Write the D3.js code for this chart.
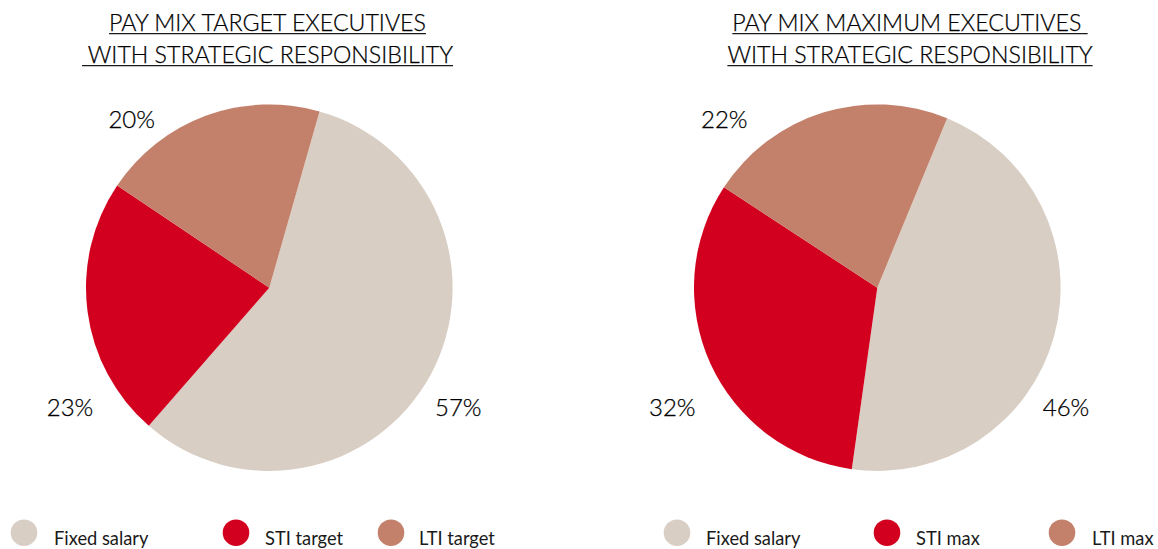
<!DOCTYPE html>
<html>
<head>
<meta charset="utf-8">
<script src="https://cdn.jsdelivr.net/npm/d3@7"></script>
<style>
  html, body { margin: 0; padding: 0; background: #fff; }
  svg { display: block; }
  text { white-space: pre; }
</style>
</head>
<body>
<svg id="chart" width="1158" height="549"></svg>
<script>
// ---- data ----
const categories = ["Fixed salary", "STI", "LTI"];
const targetValues = [57, 23, 20];
const maxValues = [46, 32, 22];
const targetLegend = ["Fixed salary", "STI target", "LTI target"];
const maxLegend = ["Fixed salary", "STI max", "LTI max"];
const targetTitle = ["PAY MIX TARGET EXECUTIVES", " WITH STRATEGIC RESPONSIBILITY"];
const maxTitle = ["PAY MIX MAXIMUM EXECUTIVES ", "WITH STRATEGIC RESPONSIBILITY"];
const sliceColors = ["#D9CEC4", "#D2001E", "#C3806A"];

// ---- layout ----
const charts = [
  { values: targetValues, legend: targetLegend, title: targetTitle,
    cx: 269.3, cy: 287.7, r: 183.3, startDeg: 15.9, titleX: 267.5,
    labelOffsets: [[189, 119.5], [-199.3, 119.5], [-137.6, -168]],
    legendCircleX: [24, 236, 391], legendTextX: [54, 265, 419] },
  { values: maxValues, legend: maxLegend, title: maxTitle,
    cx: 877.3, cy: 287.7, r: 183.3, startDeg: 22.4, titleX: 910,
    labelOffsets: [[188.7, 119.5], [-205, 119.5], [-153, -168]],
    legendCircleX: [677, 887, 1062], legendTextX: [706, 916, 1092] }
];
const titleBaselines = [31, 63];
const legendY = 532.7;

const svg = d3.select("#chart");
const color = d3.scaleOrdinal().domain(categories).range(sliceColors);

charts.forEach(c => {
  const g = svg.append("g");
  const data = categories.map((k, i) => ({ key: k, value: c.values[i], label: c.legend[i] }));
  const start = c.startDeg * Math.PI / 180;
  const pie = d3.pie().sort(null).value(d => d.value)
    .startAngle(start).endAngle(start + 2 * Math.PI);
  const arc = d3.arc().innerRadius(0).outerRadius(c.r);
  const arcs = pie(data);

  g.append("g").attr("transform", `translate(${c.cx},${c.cy})`)
    .selectAll("path").data(arcs).join("path")
    .attr("d", arc)
    .attr("fill", d => color(d.data.key));

  // percentage labels
  g.append("g").attr("transform", `translate(${c.cx},${c.cy})`)
    .selectAll("text").data(arcs).join("text")
    .attr("x", (d, i) => c.labelOffsets[i][0])
    .attr("y", (d, i) => c.labelOffsets[i][1])
    .attr("text-anchor", "middle")
    .attr("dy", "0.36em")
    .style("font-family", "Lato, sans-serif")
    .style("font-weight", 300)
    .style("font-size", "24px")
    .attr("fill", "#000")
    .attr("stroke", "#000").attr("stroke-width", 0.25)
    .text(d => d3.format(".0f")(d.data.value) + "%");

  // title with underline
  c.title.forEach((line, i) => {
    const t = g.append("text")
      .attr("x", c.titleX).attr("y", titleBaselines[i])
      .attr("text-anchor", "middle")
      .style("font-family", "Lato, sans-serif")
      .style("font-weight", 300)
      .style("font-size", "23.2px")
      .attr("fill", "#000")
      .attr("stroke", "#000").attr("stroke-width", 0.25)
      .text(line);
    const w = t.node().getComputedTextLength();
    g.append("line")
      .attr("x1", c.titleX - w / 2).attr("x2", c.titleX + w / 2)
      .attr("y1", titleBaselines[i] + 2.6).attr("y2", titleBaselines[i] + 2.6)
      .attr("stroke", "#1a1a1a").attr("stroke-width", 1.4);
  });

  // legend
  const lg = g.append("g");
  data.forEach((d, i) => {
    lg.append("circle")
      .attr("cx", c.legendCircleX[i]).attr("cy", legendY).attr("r", 13.3)
      .attr("fill", color(d.key));
    lg.append("text")
      .attr("x", c.legendTextX[i]).attr("y", legendY + 12.5)
      .style("font-family", "Lato, sans-serif")
      .style("font-size", "18.3px")
      .attr("fill", "#1a1a1a")
      .text(d.label);
  });
});
</script>
</body>
</html>
